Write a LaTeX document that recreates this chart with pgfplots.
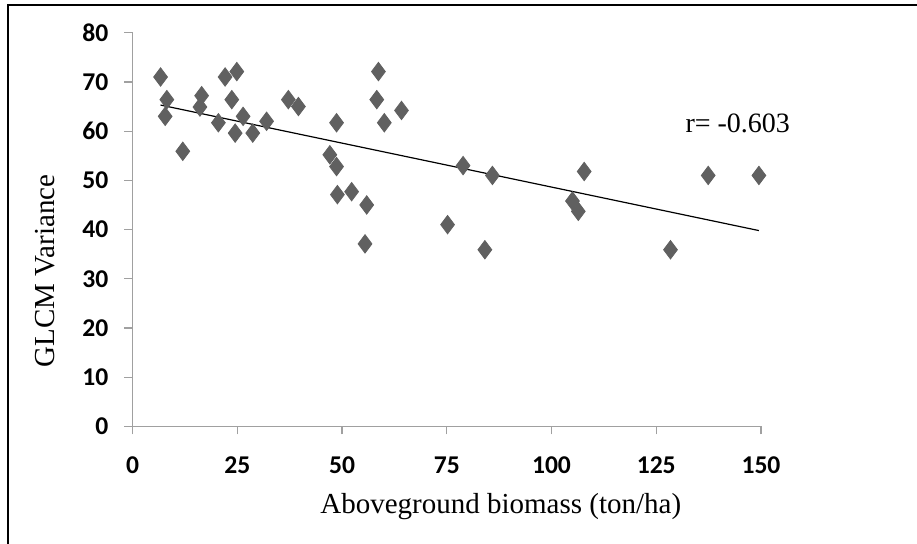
\documentclass[border=0pt]{standalone}
\usepackage{fontspec}
\setmainfont{Liberation Serif}
\newfontfamily\calibri{Carlito}
\usepackage{pgfplots}
\pgfplotsset{compat=1.18}
\definecolor{markgray}{HTML}{606060}
\definecolor{axisgray}{HTML}{A0A0A0}
\begin{document}
\begin{tikzpicture}
% 1 px of the reference = 0.5pt
\path[use as bounding box] (0,0) rectangle (458.5pt,272pt);
\draw[line width=1pt] (4pt,0) -- (4pt,269.5pt) -- (458.5pt,269.5pt);
\begin{axis}[
  at={(66.25pt,58.75pt)}, anchor=south west,
  scale only axis, width=314.25pt, height=196.9pt,
  xmin=0, xmax=150, ymin=0, ymax=80,
  xtick={0,25,...,150}, ytick={0,10,...,80},
  axis x line*=bottom, axis y line*=left,
  axis line style={axisgray, line width=0.6pt, -},
  tick style={axisgray, line width=0.6pt},
  tick align=outside, major tick length=4pt,
  /pgf/number format/assume math mode=true,
  tick label style={font=\calibri\bfseries\fontsize{12.8}{14}\selectfont},
  xticklabel style={yshift=-7.5pt},
  yticklabel style={xshift=-4.6pt},
  xlabel={Aboveground biomass (ton/ha)},
  ylabel={GLCM Variance},
  label style={font=\fontsize{14.5}{16}\selectfont},
  xlabel style={at={(axis description cs:0.586,-0.204)}, anchor=center},
  ylabel style={at={(axis description cs:-0.139,0.395)}, anchor=center, rotate=0},
  clip=false,
]
\addplot[only marks, mark=diamond*, mark size=4.6pt,
  mark options={fill=markgray, draw=markgray}] coordinates {
  (6.7,71.0) (8.2,66.4) (7.8,63.0) (12.0,55.9) (16.5,67.2) (16.1,64.9)
  (20.5,61.7) (22.1,71.0) (23.7,66.4) (24.9,72.1) (24.5,59.6) (26.4,63.0)
  (28.7,59.6) (32.0,62.0) (37.2,66.4) (39.6,65.0) (48.7,61.7) (47.1,55.2)
  (48.7,52.8) (48.9,47.1) (52.3,47.7) (55.9,45.0) (55.5,37.1) (58.7,72.1)
  (58.3,66.4) (60.1,61.7) (64.2,64.2) (75.2,41.0) (78.9,53.0) (84.1,35.9)
  (85.9,51.0) (105.0,45.8) (106.4,43.7) (107.8,51.8) (128.4,35.9)
  (137.4,51.0) (149.5,51.0)
};
\addplot[black, line width=0.6pt, no marks] coordinates {(6.7,65.3) (149.5,39.8)};
\node[anchor=west, font=\fontsize{14}{16}\selectfont, inner sep=0pt]
  at (axis cs:131.9,61.5) {r= -0.603};
\end{axis}
\end{tikzpicture}
\end{document}
